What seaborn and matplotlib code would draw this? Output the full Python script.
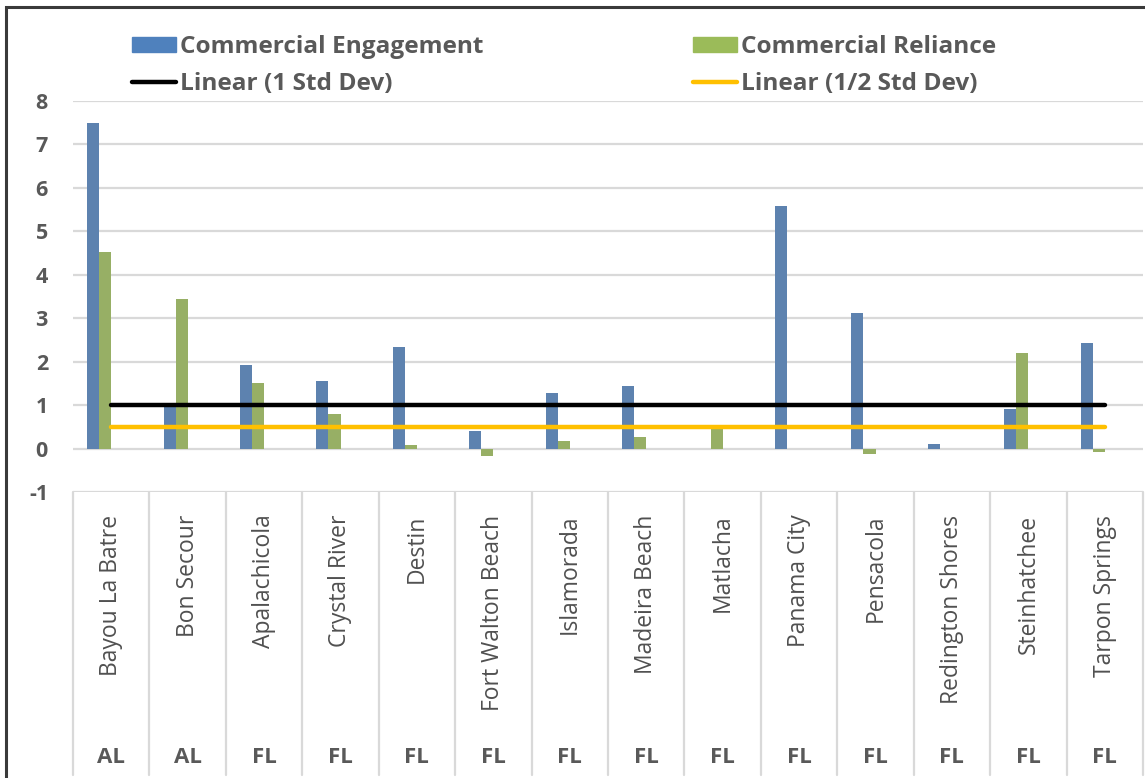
import matplotlib
matplotlib.use("Agg")
import matplotlib.pyplot as plt
from matplotlib.patches import Patch, Rectangle
from matplotlib.lines import Line2D
import numpy as np
import pandas as pd
import seaborn as sns

cities = ["Bayou La Batre", "Bon Secour", "Apalachicola", "Crystal River", "Destin",
          "Fort Walton Beach", "Islamorada", "Madeira Beach", "Matlacha", "Panama City",
          "Pensacola", "Redington Shores", "Steinhatchee", "Tarpon Springs"]
states = ["AL", "AL", "FL", "FL", "FL", "FL", "FL", "FL", "FL", "FL", "FL", "FL", "FL", "FL"]
engagement = [7.5, 1.0, 1.92, 1.56, 2.34, 0.41, 1.29, 1.45, 0.0, 5.59, 3.13, 0.11, 0.91, 2.43]
reliance = [4.53, 3.45, 1.52, 0.80, 0.08, -0.18, 0.18, 0.26, 0.48, 0.0, -0.12, 0.0, 2.19, -0.09]
std_1 = [1.0] * 14
std_half = [0.5] * 14

series_names = ["Commercial Engagement", "Commercial Reliance", "1 Std Dev", "1/2 Std Dev"]
colors = ["#4F81BD", "#9BBB59", "#000000", "#FFC000"]
text_gray = "#595959"
grid_gray = "#D9D9D9"

sns.set_theme(style="white")
plt.rcParams["font.family"] = ["Open Sans", "DejaVu Sans"]
plt.rcParams["axes.unicode_minus"] = False

# long table, the two std dev series are kept as (hidden) bars like the original workbook
df = pd.DataFrame({
    "city": cities * 4,
    "series": np.repeat(series_names, len(cities)),
    "value": engagement + reliance + std_1 + std_half,
})

fig = plt.figure(figsize=(11.45, 7.78), dpi=100)
ax = fig.add_axes([73 / 1145, 1 - 492 / 778, 1070 / 1145, 391 / 778])

sns.barplot(data=df, x="city", y="value", hue="series", hue_order=series_names,
            order=cities, palette=colors, width=0.63, linewidth=0, legend=False,
            errorbar=None, ax=ax)
for cont in ax.containers[2:]:
    for bar in cont:
        bar.set_visible(False)

# linear trend lines of the std dev series
xs = np.arange(len(cities))
for vals, col in [(std_1, "#000000"), (std_half, "#FFC000")]:
    fit = np.polyval(np.polyfit(xs, vals, 1), xs)
    sns.lineplot(x=xs, y=fit, color=col, lw=3.2, ax=ax, zorder=4)

ax.set_xlim(-0.5, len(cities) - 0.5)
ax.set_ylim(-1, 8)
ax.set_yticks(range(-1, 9))
for y in range(-1, 9):
    ax.axhline(y, color=grid_gray, lw=1.6, zorder=0)
for s in ax.spines.values():
    s.set_visible(False)
ax.tick_params(axis="y", length=0, pad=18, labelsize=15.5, labelcolor=text_gray)
for lab in ax.get_yticklabels():
    lab.set_fontweight("bold")
ax.set_xticks([])
ax.set_xlabel("")
ax.set_ylabel("")

# two-level category axis
trans = ax.get_xaxis_transform()
for b in np.arange(-0.5, len(cities), 1.0):
    ax.plot([b, b], [0, -0.725], transform=trans, color=grid_gray, lw=1.6, clip_on=False)
for i, (c, st) in enumerate(zip(cities, states)):
    ax.text(i, -0.058, c, transform=trans, rotation=90, ha="center", va="top",
            fontsize=16.5, color="#505050")
    ax.text(i, -0.678, st, transform=trans, ha="center", va="center",
            fontsize=16, fontweight="bold", color=text_gray)

handles = [Patch(color=colors[0]), Line2D([], [], color="black", lw=3.2),
           Patch(color=colors[1]), Line2D([], [], color="#FFC000", lw=3.2)]
labels = ["Commercial Engagement", "Linear (1 Std Dev)",
          "Commercial Reliance", "Linear (1/2 Std Dev)"]
leg = fig.legend(handles, labels, loc="upper left", bbox_to_anchor=(132 / 1145, 1 - 35 / 778),
                 ncol=2, frameon=False,
                 prop={"weight": "bold", "size": 17.6},
                 handlelength=1.8, handleheight=0.55,
                 handletextpad=0.15, columnspacing=8.6, labelspacing=0.52, borderpad=0,
                 borderaxespad=0)
for t in leg.get_texts():
    t.set_color(text_gray)

fig.add_artist(Rectangle((6 / 1145, -0.1), 1.2, 1.1 - 7 / 778, transform=fig.transFigure,
                         fill=False, edgecolor="#3A3A3A", lw=2.2))

fig.savefig("out.png", dpi=100)
